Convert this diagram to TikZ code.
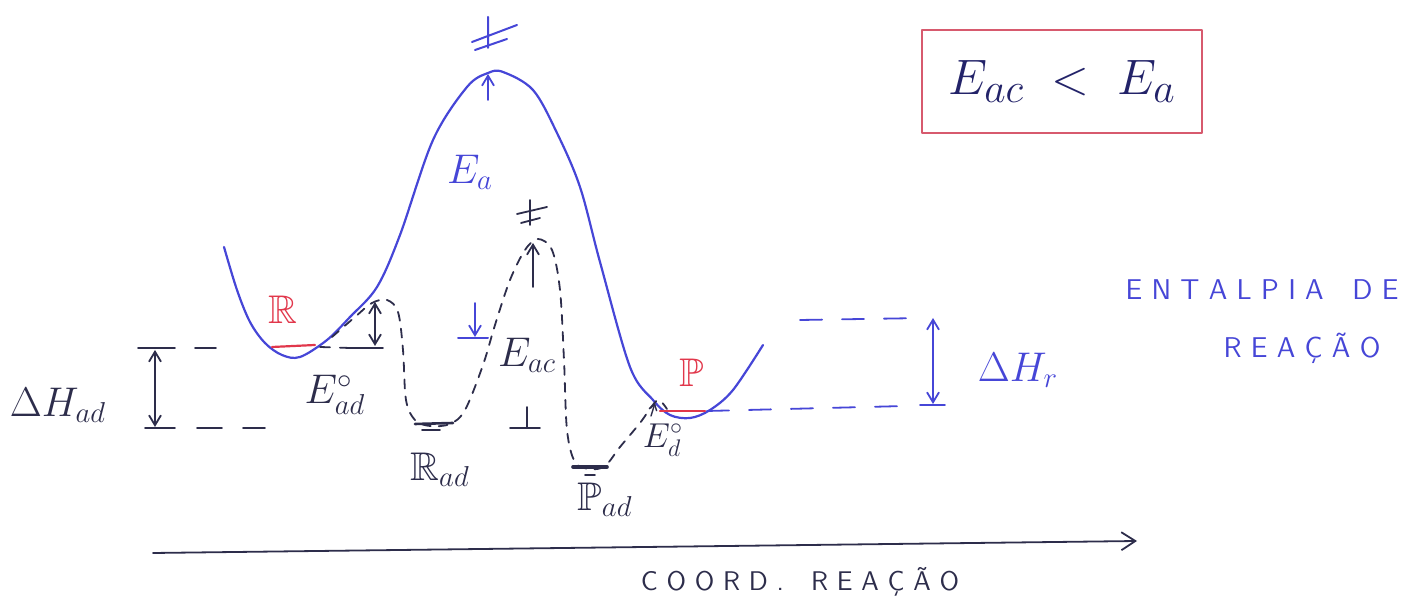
\documentclass[tikz,border=0pt]{standalone}
\usepackage{amssymb}
\usetikzlibrary{arrows.meta}
\definecolor{inkblue}{RGB}{70,70,215}
\definecolor{ink}{RGB}{45,45,75}
\definecolor{inkred}{RGB}{225,55,75}
\definecolor{boxred}{RGB}{215,90,110}
\definecolor{navy}{RGB}{35,35,105}
\begin{document}
\begin{tikzpicture}[x=0.5pt,y=-0.5pt,line cap=round,line join=round,
  bluecurve/.style={inkblue,line width=1.1pt},
  dashcurve/.style={ink,line width=0.9pt,dash pattern=on 4.5pt off 4pt},
  levelblue/.style={inkblue,line width=0.9pt,dash pattern=on 11pt off 10pt},
  solidink/.style={ink,line width=0.9pt},
  redline/.style={inkred,line width=1.1pt},
  barb/.style={-{Straight Barb[length=5pt,width=6pt]}},
  dbarb/.style={{Straight Barb[length=5pt,width=6pt]}-{Straight Barb[length=5pt,width=6pt]}},
  lbl/.style={inner sep=0pt,font=\fontsize{20}{22}\selectfont},
  caps/.style={inner sep=0pt,inkblue,font=\sffamily\fontsize{14.3}{16}\selectfont}]
\useasboundingbox (0,0) rectangle (1405,608);
% ---- blue energy curve (gas phase) ----
\draw[bluecurve] plot[smooth,tension=0.55] coordinates {
 (224,247) (237,290) (250,322) (265,343) (282,355) (300,357) (327,340) (350,317)
 (377,287) (400,235) (433,140) (467,87) (488,73) (503,72) (533,90) (557,133)
 (580,187) (600,262) (630,367) (653,400) (670,415) (690,418) (710,410) (733,390) (763,345)};
% ---- dashed catalysed curve ----
\draw[dashcurve] plot[smooth,tension=0.55] coordinates {
 (332,337) (355,317) (372,303) (387,300) (398,312) (403,350) (406,400) (415,420)
 (430,426) (450,424) (465,410) (483,365) (495,325) (510,280) (525,250) (538,239)
 (552,250) (560,290) (564,360) (567,430) (575,462) (590,469) (605,466) (620,447)
 (640,423) (652,406) (659,400) (667,409)};
% ---- levels ----
\coordinate (Rl) at (272,347); \coordinate (Rr) at (315,345);
\draw[redline] (Rl) -- (Rr);
\coordinate (Pl) at (660,411); \coordinate (Pr) at (705,411);
\draw[redline] (Pl) -- (Pr);
\coordinate (RadL) at (415,424); \coordinate (RadR) at (453,423);
\draw[solidink,line width=1.3pt] (RadL) -- (RadR);
\coordinate (RadL2) at (422,430); \coordinate (RadR2) at (440,430);
\draw[solidink] (RadL2) -- (RadR2);
\coordinate (PadL) at (573,467); \coordinate (PadR) at (607,467);
\draw[solidink,line width=1.8pt] (PadL) -- (PadR);
\coordinate (PadL2) at (585,475); \coordinate (PadR2) at (595,475);
\draw[solidink] (PadL2) -- (PadR2);
% ---- Delta H_ad ----
\coordinate (adT1) at (138,348); \coordinate (adT2) at (175,348);
\coordinate (adT3) at (195,348); \coordinate (adT4) at (216,348);
\coordinate (adB1) at (145,428); \coordinate (adB2) at (175,428);
\coordinate (adB3) at (197,428); \coordinate (adB4) at (222,428);
\coordinate (adB5) at (243,428); \coordinate (adB6) at (265,428);
\draw[solidink] (adT1) -- (adT2) (adT3) -- (adT4);
\draw[solidink] (adB1) -- (adB2) (adB3) -- (adB4) (adB5) -- (adB6);
\coordinate (adAT) at (155,350); \coordinate (adAB) at (155,427);
\draw[solidink,dbarb] (adAT) -- (adAB);
% ---- E0ad ----
\coordinate (e0a) at (320,347); \coordinate (e0b) at (350,348); \coordinate (e0c) at (383,348);
\draw[ink,line width=0.9pt,dash pattern=on 5pt off 5pt] (e0a) -- (e0b);
\draw[solidink] (e0b) -- (e0c);
\coordinate (e0T) at (375,302); \coordinate (e0B) at (375,346);
\draw[solidink,dbarb] (e0B) -- (e0T);
% ---- Ea ----
\coordinate (eaB) at (488,100); \coordinate (eaT) at (488,74);
\draw[inkblue,line width=0.9pt,barb] (eaB) -- (eaT);
% ---- double dagger (top, blue) ----
\draw[inkblue,line width=1pt] (488,17) -- (488,48) (472,42) -- (517,25) (475,50) -- (507,39);
% ---- double dagger (catalysed, black) ----
\draw[solidink] (530,200) -- (530,225) (517,214) -- (547,207) (521,223) -- (540,218);
% ---- Eac arrows ----
\coordinate (eacB) at (533,287); \coordinate (eacT) at (533,243);
\draw[solidink,barb] (eacB) -- (eacT);
\coordinate (eacBlT) at (475,303); \coordinate (eacBlB) at (475,337);
\draw[inkblue,line width=0.9pt,barb] (eacBlT) -- (eacBlB);
\draw[inkblue,line width=1pt] (458,338) -- (488,338);
\draw[solidink] (510,428) -- (540,428) (527,407) -- (527,428);
% ---- E0d small arrow ----
\coordinate (edB) at (651,416); \coordinate (edT) at (655,403);
\draw[solidink,line width=0.7pt,-{Straight Barb[length=3pt,width=4pt]}] (edB) -- (edT);
% ---- Delta H_r ----
\coordinate (hrT1) at (800,320); \coordinate (hrT2) at (925,318);
\coordinate (hrB1) at (707,411); \coordinate (hrB2) at (905,406);
\coordinate (hrB3) at (920,405); \coordinate (hrB4) at (945,405);
\draw[levelblue] (hrT1) -- (hrT2);
\draw[levelblue] (hrB1) -- (hrB2);
\draw[inkblue,line width=0.9pt] (hrB3) -- (hrB4);
\coordinate (hrAT) at (933,318); \coordinate (hrAB) at (933,404);
\draw[inkblue,line width=0.9pt,dbarb] (hrAT) -- (hrAB);
% ---- axis ----
\coordinate (axS) at (153,553); \coordinate (axE) at (1137,541);
\draw[ink,line width=0.9pt,-{Straight Barb[length=7pt,width=9pt]}] (axS) -- (axE);
% ---- box ----
\node[draw=boxred,line width=1pt,minimum width=140pt,minimum height=51.5pt,inner sep=0pt] (box) at (1062,81.5) {};
\node[navy,inner sep=0pt,font=\fontsize{32}{34}\selectfont] (boxtxt) at (box.center) {$E_{ac}\;<\;E_a$};
% ---- labels ----
\node[lbl,inkblue] (Ea) at (470,172) {$E_a$};
\node[lbl,inkred] (R) at (283,310) {$\mathbb{R}$};
\node[lbl,inkred] (P) at (692,373) {$\mathbb{P}$};
\node[lbl,ink,font=\fontsize{22}{24}\selectfont] (dHad) at (58,405) {$\Delta H_{ad}$};
\node[lbl,ink] (E0ad) at (335,395) {$E^{\circ}_{ad}$};
\node[lbl,ink] (Rad) at (440,470) {$\mathbb{R}_{ad}$};
\node[lbl,ink,font=\fontsize{22}{24}\selectfont] (Eac) at (527,355) {$E_{ac}$};
\node[lbl,ink] (Pad) at (605,500) {$\mathbb{P}_{ad}$};
\node[lbl,ink,font=\fontsize{17}{19}\selectfont] (E0d) at (663,440) {$E^{\circ}_{d}$};
\node[lbl,inkblue,font=\fontsize{22}{24}\selectfont] (dHr) at (1018,370) {$\Delta H_{r}$};
\node[caps] (ent1) at (1262,290) {E N T A L P I A\quad D E};
\node[caps] (ent2) at (1302,348) {R E A Ç Ã O};
\node[caps,ink,font=\sffamily\fontsize{13.5}{15}\selectfont] (coord) at (800,582) {C O O R D .\quad R E A Ç Ã O};
\end{tikzpicture}
\end{document}
